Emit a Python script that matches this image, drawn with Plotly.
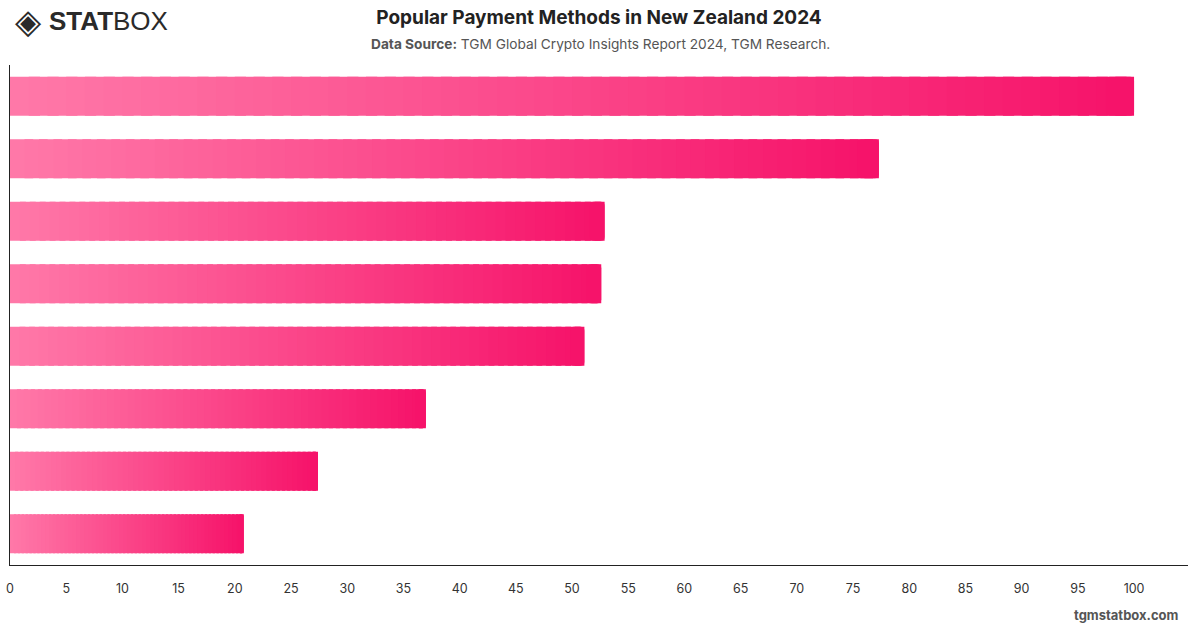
import plotly.graph_objects as go

# ---- data ----
categories = ["Method A", "Method B", "Method C", "Method D",
              "Method E", "Method F", "Method G", "Method H"]
values = [100, 77.3, 52.9, 52.6, 51.1, 37.0, 27.4, 20.8]
x_ticks = list(range(0, 101, 5))

# ---- gradient helper ----
c_start = (255, 120, 168)
c_end = (246, 19, 106)
N = 60


def lerp(a, b, t):
    return tuple(round(a[i] + (b[i] - a[i]) * t) for i in range(3))


fig = go.Figure()
for k in range(N):
    t = k / (N - 1)
    col = "rgb(%d,%d,%d)" % lerp(c_start, c_end, t)
    seg_base = [v * k / N for v in values]
    seg_len = [min(v / N * 1.6, v - b) for v, b in zip(values, seg_base)]
    fig.add_trace(go.Bar(
        y=categories, x=seg_len, base=seg_base, orientation="h",
        marker=dict(color=col, line=dict(width=0)),
        hoverinfo="skip", showlegend=False,
    ))
# rounded end cap in the final colour
cap_base = [v * (N - 1.5) / N for v in values]
cap_len = [v - b for v, b in zip(values, cap_base)]
fig.add_trace(go.Bar(
    y=categories, x=cap_len, base=cap_base, orientation="h",
    marker=dict(color="rgb(%d,%d,%d)" % c_end, line=dict(width=0), cornerradius=4),
    hoverinfo="skip", showlegend=False,
))

L, R, T, B = 10, 12, 65, 63
W, H = 1200, 628
pw = W - L - R
ph = H - T - B


def px(xp):
    return (xp - L) / pw


def py(yp):
    return (H - B - yp) / ph


fig.update_layout(
    width=W, height=H,
    margin=dict(l=L, r=R, t=T, b=B),
    paper_bgcolor="white", plot_bgcolor="white",
    barmode="overlay", bargap=0.376,
    font=dict(family="Inter, Roboto, Arial", color="#333"),
    title=dict(
        text="<b>Popular Payment Methods in New Zealand 2024</b>",
        x=0.5, xanchor="center", xref="paper",
        y=1 - 17 / H, yanchor="middle", yref="container",
        font=dict(size=19, color="#222", family="Inter, Roboto, Arial"),
    ),
    xaxis=dict(
        range=[0, 104.8], tickvals=x_ticks, showgrid=False, zeroline=False,
        showline=True, linecolor="#222", linewidth=1,
        ticks="outside", ticklen=12, tickcolor="rgba(0,0,0,0)",
        tickfont=dict(size=12.5, color="#333"), fixedrange=True,
        automargin=False,
    ),
    yaxis=dict(
        categoryorder="array", categoryarray=categories, autorange="reversed",
        showticklabels=False, showgrid=False, zeroline=False,
        showline=True, linecolor="#222", linewidth=1, ticks="",
        automargin=False,
    ),
    annotations=[
        dict(text="<b>Data Source:</b> TGM Global Crypto Insights Report 2024, TGM Research.",
             xref="paper", yref="paper", x=px(600), y=py(44),
             xanchor="center", yanchor="middle", showarrow=False,
             font=dict(size=13.7, color="#555")),
        dict(text="◈",
             xref="paper", yref="paper", x=px(13), y=py(21),
             xanchor="left", yanchor="middle", showarrow=False,
             font=dict(size=34, color="#2a2a2a", family="DejaVu Sans")),
        dict(text="<b>STAT</b>BOX",
             xref="paper", yref="paper", x=px(47), y=py(21),
             xanchor="left", yanchor="middle", showarrow=False,
             font=dict(size=26, color="#2a2a2a", family="Liberation Sans, Arial")),
        dict(text="<b>tgmstatbox.com</b>",
             xref="paper", yref="paper", x=px(1181), y=py(615),
             xanchor="right", yanchor="middle", showarrow=False,
             font=dict(size=13, color="#555")),
    ],
)

fig.write_html("out.html")
